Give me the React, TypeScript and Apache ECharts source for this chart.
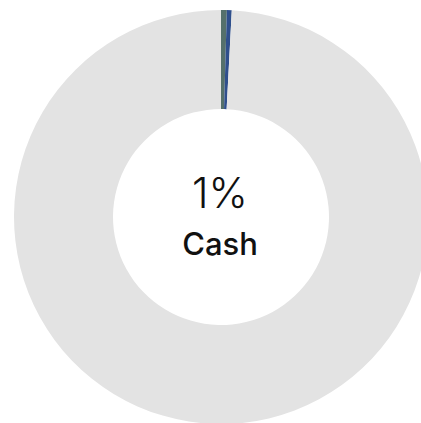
import React, { useEffect, useRef } from "react";
import * as echarts from "echarts";

const sliceNames = ["Cash (a)", "Cash (b)", "Other"];
const sliceValues = [0.45, 0.38, 99.17];
const sliceColors = ["#55706b", "#2f4f8c", "#e3e3e3"];
const centerValue = "1%";
const centerLabel = "Cash";

export default function App() {
  const ref = useRef<HTMLDivElement>(null);
  useEffect(() => {
    if (!ref.current) return;
    const chart = echarts.init(ref.current, undefined, { renderer: "svg" });
    chart.setOption({
      animation: false,
      series: [
        {
          type: "pie",
          center: [221, 217],
          radius: [108, 207],
          startAngle: 90,
          clockwise: true,
          label: { show: false },
          labelLine: { show: false },
          silent: true,
          itemStyle: { borderWidth: 0 },
          data: sliceNames.map((n, i) => ({
            name: n,
            value: sliceValues[i],
            itemStyle: { color: sliceColors[i] },
          })),
        },
      ],
      graphic: [
        {
          type: "text",
          x: 220,
          y: 192,
          style: {
            text: centerValue,
            fontFamily: "Inter",
            fontWeight: 300,
            fontSize: 42,
            fill: "#111",
            textAlign: "center",
            textVerticalAlign: "middle",
          },
        },
        {
          type: "text",
          x: 220,
          y: 243,
          style: {
            text: centerLabel,
            fontFamily: "Inter",
            fontWeight: 500,
            fontSize: 31,
            fill: "#111",
            textAlign: "center",
            textVerticalAlign: "middle",
          },
        },
      ],
    });
    return () => chart.dispose();
  }, []);
  return (
    <div
      ref={ref}
      style={{ position: "fixed", left: 0, top: 0, width: 421, height: 423, background: "#fff" }}
    />
  );
}
